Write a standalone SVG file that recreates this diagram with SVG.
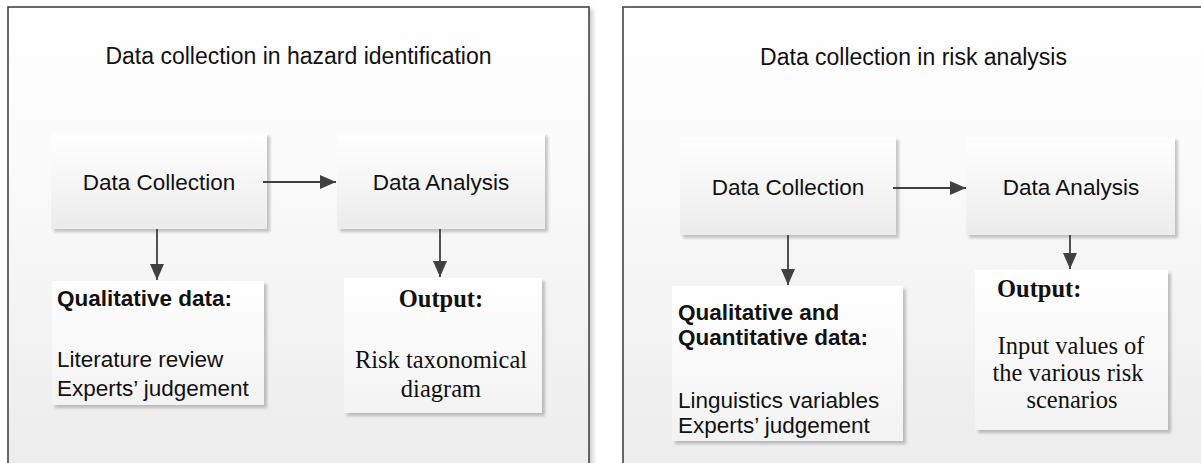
<svg xmlns="http://www.w3.org/2000/svg" width="1201" height="463" viewBox="0 0 1201 463">
<style>
.panel{stroke:#444;stroke-width:1.6;fill:url(#gPanel)}
.box{fill:url(#gBox);filter:url(#sh)}
.obox{fill:url(#gOut);filter:url(#sh)}
.sans{font-family:"Liberation Sans",Arial,sans-serif;font-size:22.5px;fill:#111}
.title{font-size:23px}
.b{font-weight:bold}
.serif{font-family:"Liberation Serif","Times New Roman",serif;font-size:24.5px;fill:#111}
.mid{text-anchor:middle}
.conn{stroke:#404040;stroke-width:1.8;fill:none;marker-end:url(#ah)}
</style>
<defs>
<linearGradient id="gPanel" x1="0" y1="0" x2="0" y2="1">
<stop offset="0" stop-color="#ffffff"/><stop offset="0.3" stop-color="#fbfbfb"/><stop offset="1" stop-color="#ececec"/>
</linearGradient>
<linearGradient id="gBox" x1="0" y1="0" x2="0" y2="1">
<stop offset="0" stop-color="#ffffff"/><stop offset="1" stop-color="#ececec"/>
</linearGradient>
<linearGradient id="gOut" x1="0" y1="0" x2="0" y2="1">
<stop offset="0" stop-color="#ffffff"/><stop offset="1" stop-color="#f3f3f3"/>
</linearGradient>
<filter id="sh" x="-10%" y="-10%" width="125%" height="125%">
<feGaussianBlur in="SourceAlpha" stdDeviation="1.5"/>
<feOffset dx="3" dy="3" result="o"/>
<feComponentTransfer><feFuncA type="linear" slope="0.22"/></feComponentTransfer>
<feMerge><feMergeNode/><feMergeNode in="SourceGraphic"/></feMerge>
</filter>
<filter id="psh" x="-5%" y="-5%" width="110%" height="110%">
<feGaussianBlur in="SourceAlpha" stdDeviation="2"/>
<feOffset dx="3" dy="3"/>
<feComponentTransfer><feFuncA type="linear" slope="0.2"/></feComponentTransfer>
<feMerge><feMergeNode/><feMergeNode in="SourceGraphic"/></feMerge>
</filter>
<marker id="ah" markerUnits="userSpaceOnUse" markerWidth="16" markerHeight="14" refX="16" refY="7" orient="auto">
<path d="M0,0 L16,7 L0,14 z" fill="#404040"/>
</marker>
</defs>
<rect width="1201" height="463" fill="#ffffff"/>

<g id="panel-hazard">
<rect class="panel" x="8" y="7" width="581" height="470" filter="url(#psh)"/>
<text class="sans title mid" x="298.5" y="64">Data collection in hazard identification</text>
</g>
<g id="panel-risk">
<rect class="panel" x="623" y="7" width="600" height="470" filter="url(#psh)"/>
<text class="sans title mid" x="913.5" y="65">Data collection in risk analysis</text>
</g>

<g id="h-collection">
<rect class="box" x="51" y="133" width="216" height="96"/>
<text class="sans mid" x="159" y="190">Data Collection</text>
</g>
<g id="h-analysis">
<rect class="box" x="337" y="133" width="208" height="96"/>
<text class="sans mid" x="441" y="190">Data Analysis</text>
</g>
<g id="h-qualitative">
<rect class="obox" x="52" y="281" width="212" height="124"/>
<text class="sans b" x="57" y="306">Qualitative data:</text>
<text class="sans" x="57" y="367">Literature review</text>
<text class="sans" x="57" y="396">Experts’ judgement</text>
</g>
<g id="h-output">
<rect class="obox" x="344" y="278" width="198" height="135"/>
<text class="serif b mid" x="441" y="307">Output:</text>
<text class="serif mid" x="441" y="368">Risk taxonomical</text>
<text class="serif mid" x="441" y="397">diagram</text>
</g>

<g id="r-collection">
<rect class="box" x="680" y="137" width="216" height="98"/>
<text class="sans mid" x="788" y="195">Data Collection</text>
</g>
<g id="r-analysis">
<rect class="box" x="966" y="137" width="209" height="98"/>
<text class="sans mid" x="1071" y="195">Data Analysis</text>
</g>
<g id="r-qualquant">
<rect class="obox" x="672" y="286" width="231" height="155"/>
<text class="sans b" x="678" y="320">Qualitative and</text>
<text class="sans b" x="678" y="345">Quantitative data:</text>
<text class="sans" x="678" y="408">Linguistics variables</text>
<text class="sans" x="678" y="433">Experts’ judgement</text>
</g>
<g id="r-output">
<rect class="obox" x="975" y="270" width="193" height="160"/>
<text class="serif b" x="997" y="297">Output:</text>
<text class="serif mid" x="1071" y="354">Input values of</text>
<text class="serif mid" x="1068" y="381">the various risk</text>
<text class="serif mid" x="1072" y="408">scenarios</text>
</g>

<g id="connectors">
<path class="conn" d="M263,182 L336,182"/>
<path class="conn" d="M157,229 L157,280"/>
<path class="conn" d="M440,229 L440,277"/>
<path class="conn" d="M893,188 L966,188"/>
<path class="conn" d="M788,235 L788,285"/>
<path class="conn" d="M1070,235 L1070,269"/>
</g>
</svg>
